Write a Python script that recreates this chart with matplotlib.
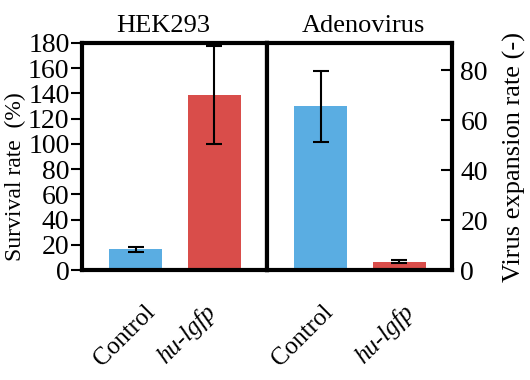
import matplotlib
matplotlib.use("Agg")
import matplotlib.pyplot as plt

categories = ["Control", "hu-lgfp"]
hek_values = [16.5, 139.0]
hek_err = [2.0, 39.0]
adeno_values = [65.5, 3.4]
adeno_err = [14.2, 0.7]
colors = ["#5aade2", "#d94d4a"]

SERIF = 'Liberation Serif'
plt.rcParams['font.family'] = SERIF

fig = plt.figure(figsize=(5.3, 3.8), dpi=100)
W, H = 530, 380
ax1 = fig.add_axes([82/W, 1-270/H, 185/W, 227/H])
ax2 = fig.add_axes([267/W, 1-270/H, 185/W, 227/H])

x = [0, 1]
for ax, vals, errs in [(ax1, hek_values, hek_err), (ax2, adeno_values, adeno_err)]:
    ax.bar(x, vals, width=0.67, color=colors, yerr=errs, capsize=6,
           error_kw=dict(elinewidth=1.5, capthick=1.5, ecolor='black', clip_on=False))
    ax.set_xlim(-0.68, 1.67)
    for s in ax.spines.values():
        s.set_linewidth(3)
    ax.set_xticks(x)
    ax.set_xticklabels([])
    ax.tick_params(axis='x', length=0)

ax1.set_ylim(0, 180)
ax1.set_yticks(range(0, 181, 20))
ax1.set_yticklabels([str(v) for v in range(0, 181, 20)], family=SERIF, fontsize=20)
ax1.tick_params(axis='y', direction='out', length=8, width=1.5, pad=1)
ax1.set_ylabel("Survival rate  (%)", fontsize=17, family=SERIF)
ax1.yaxis.set_label_coords(-0.30, 0.41)
ax1.set_title("HEK293", fontsize=19, pad=8, x=0.44, family=SERIF)

ax2.set_ylim(0, 90.8)
ax2.yaxis.tick_right()
ax2.set_yticks(range(0, 81, 20))
ax2.set_yticklabels([str(v) for v in range(0, 81, 20)], family=SERIF, fontsize=20)
ax2.yaxis.set_label_position('right')
ax2.tick_params(axis='y', direction='in', length=8, width=1.5, pad=6)
ax2.set_ylabel("Virus expansion rate (-)", fontsize=19, labelpad=11, family=SERIF)
ax2.set_title("Adenovirus", fontsize=19, pad=8, x=0.52, family=SERIF)

offsets = {0: (8, -10), 1: (1, 3)}
for k, ax in enumerate((ax1, ax2)):
    for xi, lab in zip(x, categories):
        style = 'italic' if lab.startswith('hu') else 'normal'
        ax.annotate(lab, xy=(xi, 0), xycoords=('data', 'axes fraction'),
                    xytext=(offsets[k][xi], -31), textcoords='offset pixels',
                    rotation=45, ha='right', va='top', rotation_mode='anchor',
                    fontsize=18, fontstyle=style, family=SERIF)

fig.savefig("out.png", dpi=100)
